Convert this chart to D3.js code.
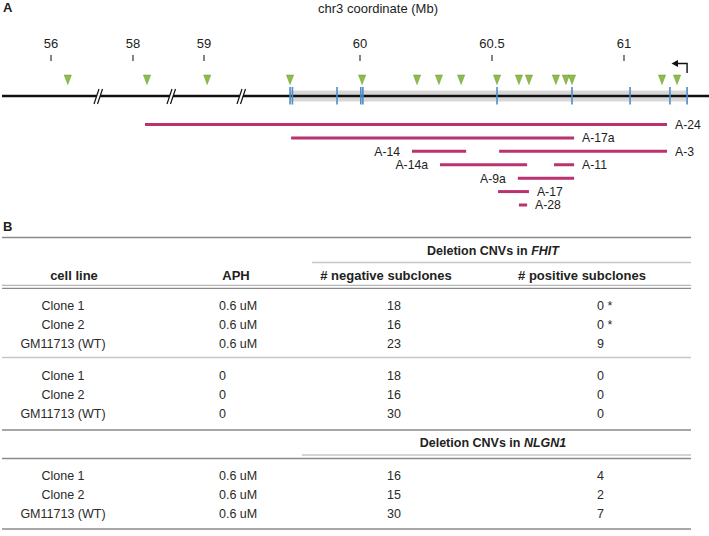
<!DOCTYPE html>
<html><head><meta charset="utf-8">
<script src="https://cdn.jsdelivr.net/npm/d3@7"></script>
<style>body{margin:0;background:#fff} svg{display:block;font-family:"Liberation Sans",Arial,Helvetica,sans-serif}</style>
</head><body><svg id="c" width="709" height="536"></svg>
<script>
// ---- Panel A data (Mb on chr3) ----
const tickValues = [56, 58, 59, 60, 60.5, 61];
const tickLabels = ["56", "58", "59", "60", "60.5", "61"];
const fragileSites = [56.21, 58.175, 59.04, 59.735, 60.008, 60.216, 60.299, 60.383, 60.519, 60.602, 60.640, 60.742, 60.780, 60.803, 61.144, 61.201];
const exons = [59.735, 59.744, 59.913, 60.003, 60.011, 60.519, 60.803, 61.023, 61.174, 61.239];
const fhitGene = [59.735, 61.239];
const tssPosition = 61.239;
const deletionNames = ["A-24", "A-17a", "A-14", "A-3", "A-14a", "A-11", "A-9a", "A-17", "A-28"];
const deletionStart = [58.15, 59.739, 60.197, 60.527, 60.303, 60.735, 60.598, 60.523, 60.602];
const deletionEnd = [61.163, 60.811, 60.402, 61.163, 60.633, 60.811, 60.811, 60.640, 60.633];
const deletionRow = [0, 1, 2, 2, 3, 3, 4, 5, 6];
const deletionLabelSide = ["right", "right", "left", "right", "left", "right", "left", "right", "right"];

// ---- Panel B data ----
const fhitCellLine = ["Clone 1", "Clone 2", "GM11713 (WT)", "Clone 1", "Clone 2", "GM11713 (WT)"];
const fhitAPH = ["0.6 uM", "0.6 uM", "0.6 uM", "0", "0", "0"];
const fhitNegative = ["18", "16", "23", "18", "16", "30"];
const fhitPositive = ["0 *", "0 *", "9", "0", "0", "0"];
const nlgnCellLine = ["Clone 1", "Clone 2", "GM11713 (WT)"];
const nlgnAPH = ["0.6 uM", "0.6 uM", "0.6 uM"];
const nlgnNegative = ["16", "15", "30"];
const nlgnPositive = ["4", "2", "7"];
const headerLabels = ["cell line", "APH", "# negative subclones", "# positive subclones"];

const svg = d3.select("#c");
const ink = "#222";

// broken axis: piecewise linear scale (segments separated by // marks)
const segDomains = [[55.3875, 56.6], [57.575, 58.4875], [58.6, 59.475], [59.553, 61.322]];
const segRanges = [[2, 99], [99, 172], [172, 242], [242, 709]];
const x = d3.scaleLinear().domain(segDomains.flat()).range(segRanges.flat());
const lineY = 96;

// Panel label and title
svg.append("text").attr("x", 3).attr("y", 12).attr("font-weight", "bold").attr("font-size", 13).attr("fill", ink).text("A");
svg.append("text").attr("x", 378).attr("y", 13).attr("text-anchor", "middle").attr("font-size", 13).attr("fill", ink).text("chr3 coordinate (Mb)");

// ticks
const tg = svg.append("g");
tickValues.forEach((v, i) => {
  tg.append("line").attr("x1", x(v)).attr("x2", x(v)).attr("y1", 55).attr("y2", 61).attr("stroke", "#333").attr("stroke-width", 1.2);
  tg.append("text").attr("x", x(v)).attr("y", 48).attr("text-anchor", "middle").attr("font-size", 13).attr("fill", ink).text(tickLabels[i]);
});

// gene band
svg.append("rect").attr("x", x(fhitGene[0])).attr("width", x(fhitGene[1]) - x(fhitGene[0]))
  .attr("y", 90.5).attr("height", 11).attr("fill", "#d7d7d7");
// chromosome line
svg.append("line").attr("x1", 2).attr("x2", 709).attr("y1", lineY).attr("y2", lineY).attr("stroke", "#111").attr("stroke-width", 2.6);

// break marks
segRanges.slice(0, 3).forEach(r => {
  const bx = r[1];
  svg.append("polygon").attr("points", `${bx-5},104 ${bx},89 ${bx+3.5},89 ${bx-1.5},104`).attr("fill", "#fff");
  svg.append("line").attr("x1", bx-5).attr("y1", 104).attr("x2", bx).attr("y2", 89).attr("stroke", "#111").attr("stroke-width", 1.2);
  svg.append("line").attr("x1", bx-1.5).attr("y1", 104).attr("x2", bx+3.5).attr("y2", 89).attr("stroke", "#111").attr("stroke-width", 1.2);
});

// exons
svg.append("g").selectAll("line").data(exons).join("line")
  .attr("x1", d => x(d)).attr("x2", d => x(d)).attr("y1", 87).attr("y2", 104.5)
  .attr("stroke", "#4a8dc8").attr("stroke-width", 1.6);

// fragile-site markers (downward triangles)
svg.append("g").selectAll("path").data(fragileSites).join("path")
  .attr("d", d => `M${x(d)-3.6},75 L${x(d)+3.6},75 L${x(d)},84.5 Z`)
  .attr("fill", "#8dbb4c").attr("stroke", "#6f9c35").attr("stroke-width", 0.5);

// TSS arrow
const tx = x(tssPosition);
svg.append("path").attr("d", `M${tx},73 V63.5 H677`).attr("fill", "none").attr("stroke", "#111").attr("stroke-width", 1.4);
svg.append("path").attr("d", `M671.5,63.5 L678,60 L678,67 Z`).attr("fill", "#111");

// deletions
const rowY = d3.scaleLinear().domain([0, 6]).range([124.5, 205]);
const dg = svg.append("g");
deletionNames.forEach((n, i) => {
  const y = rowY(deletionRow[i]);
  const x1 = x(deletionStart[i]), x2 = x(deletionEnd[i]);
  dg.append("line").attr("x1", x1).attr("x2", x2).attr("y1", y).attr("y2", y).attr("stroke", "#b8336f").attr("stroke-width", 3);
  const right = deletionLabelSide[i] === "right";
  dg.append("text").attr("x", right ? x2 + 8 : x1 - 12).attr("y", y).attr("dy", "0.36em")
    .attr("text-anchor", right ? "start" : "end").attr("font-size", 12.2).attr("fill", ink).text(n);
});

// ---- Panel B ----
const L = 2, R = 691;
const dark = "#8a8a8a", light = "#c6c6c6";
function rule(y, x1, x2, c, w) {
  svg.append("line").attr("x1", x1).attr("x2", x2).attr("y1", y).attr("y2", y).attr("stroke", c).attr("stroke-width", w || 1.3);
}
svg.append("text").attr("x", 3).attr("y", 231).attr("font-weight", "bold").attr("font-size", 13).attr("fill", ink).text("B");

rule(237.5, L, R, dark, 1.6);
function groupTitle(y, gene) {
  const t = svg.append("text").attr("x", 493).attr("y", y).attr("text-anchor", "middle")
    .attr("font-weight", "bold").attr("font-size", 12.5).attr("fill", ink);
  t.append("tspan").text("Deletion CNVs in ");
  t.append("tspan").attr("font-style", "italic").text(gene);
}
groupTitle(255, "FHIT");
rule(262.5, 312, R, light, 1.3);

const headerX = [74, 236, 386, 582];
headerLabels.forEach((h, i) => {
  svg.append("text").attr("x", headerX[i]).attr("y", 280).attr("text-anchor", "middle")
    .attr("font-weight", "bold").attr("font-size", 13).attr("fill", ink).text(h);
});
rule(285.3, L, R, "#b5b5b5", 1.3);
rule(288.3, L, R, dark, 1.3);

function rows(ys, cells, aph, neg, pos) {
  ys.forEach((y, i) => {
    const g = svg.append("g").attr("font-size", 12.5).attr("fill", "#2a2a2a");
    g.append("text").attr("x", 63).attr("y", y).attr("dy", "0.36em").attr("text-anchor", "middle").text(cells[i]);
    g.append("text").attr("x", 219).attr("y", y).attr("dy", "0.36em").text(aph[i]);
    g.append("text").attr("x", 387).attr("y", y).attr("dy", "0.36em").text(neg[i]);
    g.append("text").attr("x", 597).attr("y", y).attr("dy", "0.36em").text(pos[i]);
  });
}
rows([305, 324, 343, 375, 394, 413], fhitCellLine, fhitAPH, fhitNegative, fhitPositive);
rule(357.5, L, R, light, 1.4);
rule(430, L, R, dark, 1.5);
groupTitle(447, "NLGN1");
rule(455, 302, R, light, 1.3);
rule(458.5, L, R, dark, 1.4);
rows([475, 494, 513], nlgnCellLine, nlgnAPH, nlgnNegative, nlgnPositive);
rule(529, L, R, dark, 1.6);
</script></body></html>
